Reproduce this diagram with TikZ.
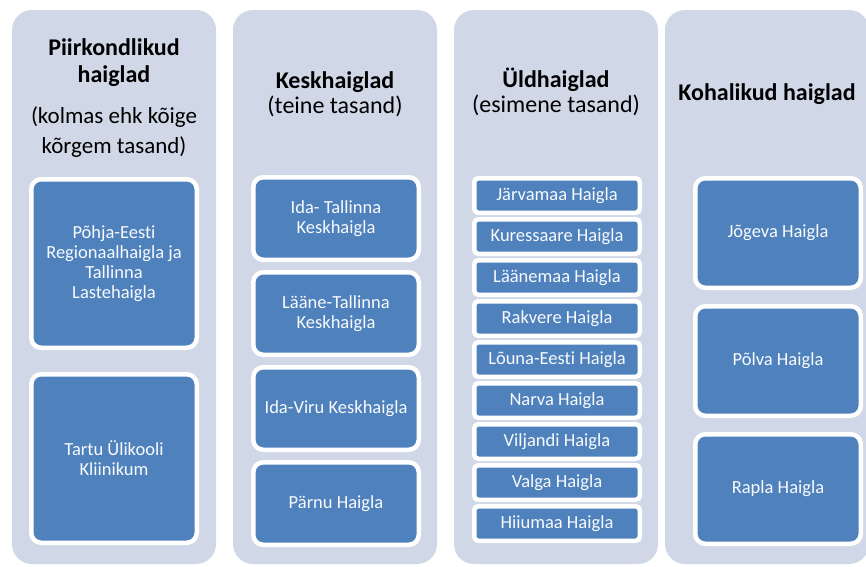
\documentclass[tikz,border=0pt]{standalone}
\usepackage{fontspec}
\setmainfont{Carlito}[Ligatures=NoCommon]
\usetikzlibrary{positioning}
\definecolor{panelgray}{RGB}{208,216,232}
\definecolor{boxblue}{RGB}{79,129,189}

\begin{document}
\begin{tikzpicture}[x=1pt, y=-1pt,
        panel/.style={fill=panelgray, rounded corners=20pt, minimum width=204pt, minimum height=554pt, inner sep=0pt},
        head/.style={font=\fontsize{24}{27}\selectfont\bfseries, align=center},
        sub/.style={font=\fontsize{23}{30}\selectfont, align=center},
        headsub/.style={font=\fontsize{24}{25}\selectfont, align=center},
        bigbox/.style={draw=white, line width=4.5pt, fill=boxblue, rounded corners=10pt, minimum width=165.5pt, text=white!96!boxblue, font=\fontsize{18.5}{20}\selectfont, align=center, inner sep=0pt},
        slimbox/.style={bigbox, rounded corners=4pt, minimum height=34.5pt}
    ]
        \useasboundingbox (0,0) rectangle (866,566);

        % columns
        \node[panel] (colA) at (114,287) {};
        \node[panel] (colB) at (335,287) {};
        \node[panel] (colC) at (556,287) {};
        \node[panel] (colD) at (767,287) {};

        % headings
        \node[head, anchor=base] (headA) at (114,82) {Piirkondlikud\\haiglad};
        \node[sub, anchor=base] (subA) at (114,153) {(kolmas ehk kõige\\kõrgem tasand)};
        \node[headsub, anchor=base] (headB) at (335,113) {\textbf{Keskhaiglad}\\(teine tasand)};
        \node[headsub, anchor=base] (headC) at (556,112) {\textbf{Üldhaiglad}\\(esimene tasand)};
        \node[head, anchor=base] (headD) at (767,100) {Kohalikud haiglad};

        % third level
        \node[bigbox, minimum height=168.5pt] (pert) at (114,263.5) {Põhja-Eesti\\Regionaalhaigla ja\\Tallinna\\Lastehaigla};
        \node[bigbox, minimum height=168.5pt] (tyk) at (114,458.5) {Tartu Ülikooli\\Kliinikum};

        % second level
        \node[bigbox, minimum height=82.5pt] (itk) at (336,218.5) {Ida- Tallinna\\Keskhaigla};
        \node[bigbox, minimum height=82.5pt] (ltk) at (336,313.5) {Lääne-Tallinna\\Keskhaigla};
        \node[bigbox, minimum height=82.5pt] (ivk) at (336,408.5) {Ida-Viru Keskhaigla};
        \node[bigbox, minimum height=82.5pt] (parnu) at (336,503.5) {Pärnu Haigla};

        % first level
        \node[slimbox] (jarva) at (557,195.5) {Järvamaa Haigla};
        \node[slimbox] (kuress) at (557,236.5) {Kuressaare Haigla};
        \node[slimbox] (laane) at (557,277.5) {Läänemaa Haigla};
        \node[slimbox] (rakv) at (557,318.5) {Rakvere Haigla};
        \node[slimbox] (louna) at (557,359.5) {Lõuna-Eesti Haigla};
        \node[slimbox] (narva) at (557,400.5) {Narva Haigla};
        \node[slimbox] (vilj) at (557,441.5) {Viljandi Haigla};
        \node[slimbox] (valga) at (557,482.5) {Valga Haigla};
        \node[slimbox] (hiiu) at (557,523.5) {Hiiumaa Haigla};

        % local
        \node[bigbox, minimum height=109.5pt] (jogeva) at (778,233) {Jõgeva Haigla};
        \node[bigbox, minimum height=109.5pt] (polva) at (778,361) {Põlva Haigla};
        \node[bigbox, minimum height=109.5pt] (rapla) at (778,489) {Rapla Haigla};
    \end{tikzpicture}
\end{document}
